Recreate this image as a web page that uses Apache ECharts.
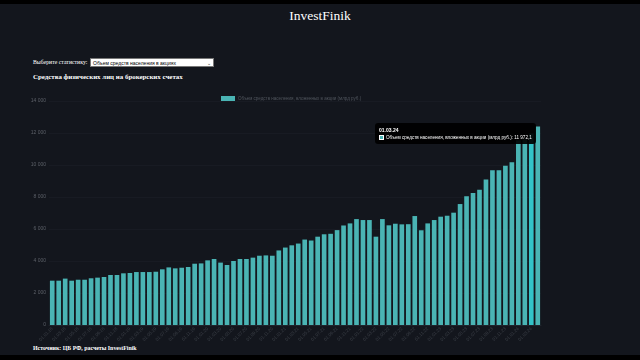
<!DOCTYPE html>
<html>
<head>
<meta charset="utf-8">
<script src="https://cdn.jsdelivr.net/npm/echarts@6/dist/echarts.min.js"></script>
<style>
  html,body{margin:0;padding:0;background:#13161d;width:640px;height:360px;overflow:hidden;}
  #page{position:relative;width:640px;height:360px;background:#13161d;}
  #topbar{position:absolute;left:0;top:0;width:640px;height:4px;background:#000;}
  #botbar{position:absolute;left:0;top:355px;width:640px;height:5px;background:#000;}
  .serif{font-family:"Liberation Serif","DejaVu Serif",serif;color:#fff;position:absolute;white-space:nowrap;}
  #title{left:0;width:640px;text-align:center;top:8px;font-size:13.5px;}
  #pick{left:33px;top:58px;font-size:5.8px;line-height:9px;}
  #sel{position:absolute;left:90px;top:58px;width:124px;height:9px;background:#fff;border:0.5px solid #777;box-sizing:border-box;font-family:"Liberation Sans",Arial,sans-serif;font-size:5px;line-height:8px;color:#000;padding-left:2px;}
  #sel span.arr{position:absolute;right:2px;top:0;font-size:5px;color:#333;}
  #sub{left:33px;top:73px;font-size:6.9px;font-weight:bold;}
  #src{left:33px;top:345px;font-size:5.9px;font-weight:bold;}
  #chart{position:absolute;left:0;top:0;width:640px;height:360px;}
</style>
</head>
<body>
<div id="page">
  <div id="topbar"></div>
  <div id="botbar"></div>
  <div id="title" class="serif">InvestFinik</div>
  <div id="pick" class="serif">Выберите статистику:</div>
  <div id="sel">Объем средств населения в акциях<span class="arr">&#8964;</span></div>
  <div id="sub" class="serif">Средства физических лиц на брокерских счетах</div>
  <div id="src" class="serif">Источник: ЦБ РФ, расчеты InvestFinik</div>
  <div id="chart"></div>
</div>
<script>
const seriesName = 'Объем средств населения, вложенных в акции (млрд руб.)';
const categories = [
 '01.01.18','01.02.18','01.03.18','01.04.18','01.05.18','01.06.18','01.07.18','01.08.18','01.09.18','01.10.18','01.11.18','01.12.18',
 '01.01.19','01.02.19','01.03.19','01.04.19','01.05.19','01.06.19','01.07.19','01.08.19','01.09.19','01.10.19','01.11.19','01.12.19',
 '01.01.20','01.02.20','01.03.20','01.04.20','01.05.20','01.06.20','01.07.20','01.08.20','01.09.20','01.10.20','01.11.20','01.12.20',
 '01.01.21','01.02.21','01.03.21','01.04.21','01.05.21','01.06.21','01.07.21','01.08.21','01.09.21','01.10.21','01.11.21','01.12.21',
 '01.01.22','01.02.22','01.03.22','01.04.22','01.05.22','01.06.22','01.07.22','01.08.22','01.09.22','01.10.22','01.11.22','01.12.22',
 '01.01.23','01.02.23','01.03.23','01.04.23','01.05.23','01.06.23','01.07.23','01.08.23','01.09.23','01.10.23','01.11.23','01.12.23',
 '01.01.24','01.02.24','01.03.24','01.04.24'
];
const values = [
 2770,2770,2900,2770,2830,2830,2920,2960,3000,3125,3125,3230,
 3250,3310,3310,3310,3330,3480,3600,3540,3580,3625,3830,3850,
 4040,4125,3900,3750,4000,4125,4125,4210,4330,4350,4330,4660,
 4840,4980,5090,5340,5280,5520,5670,5700,5930,6220,6350,6620,
 6560,6560,5520,6620,6230,6330,6290,6300,6810,5920,6350,6560,
 6770,6830,7020,7560,8040,8250,8460,9100,9670,9670,9960,10170,
 11550,11600,11972.1,12400
];
const yMax = 14000;
const yStep = 2000;
const hoverIndex = 74;

const barColor = '#4ab4b4';
const hoverColor = '#33c3c8';

function fmtNum(v){
  const parts = String(v).split('.');
  const i = parts[0].replace(/\B(?=(\d{3})+(?!\d))/g,' ');
  return parts.length>1 ? i + ',' + parts[1] : i;
}

const chart = echarts.init(document.getElementById('chart'), null, {renderer:'canvas'});
const data = values.map((v,i)=> i===hoverIndex ? {value:v, itemStyle:{color:hoverColor}} : v);
chart.setOption({
  animation:false,
  backgroundColor:'transparent',
  textStyle:{fontFamily:'"Liberation Sans", Arial, sans-serif'},
  legend:{
    show:true, left:216, top:91, itemWidth:14, itemHeight:5, itemGap:4,
    icon:'rect',
    textStyle:{fontSize:4.5, color:'#50555d', padding:[0,0,0,-2]},
    data:[seriesName]
  },
  grid:{left:49, right:99, top:101, bottom:35, containLabel:false},
  tooltip:{
    trigger:'item',
    alwaysShowContent:true,
    position:[375,123],
    backgroundColor:'rgba(0,0,0,0.92)',
    borderWidth:0,
    padding:[4,4,3,4],
    extraCssText:'box-shadow:none;border-radius:3px;',
    formatter:function(p){
      return '<div style="font:bold 5px Liberation Sans,Arial,sans-serif;color:#fff;line-height:7px;">'+p.name+'</div>'+
        '<div style="font:4.6px Liberation Sans,Arial,sans-serif;color:#fff;line-height:7px;white-space:nowrap;">'+
        '<span style="display:inline-block;width:5px;height:5px;background:'+barColor+';border:0.5px solid #fff;box-sizing:border-box;vertical-align:-1px;margin-right:2px;"></span>'+
        p.seriesName+': '+fmtNum(p.value)+'</div>';
    }
  },
  xAxis:{
    type:'category',
    data:categories,
    axisLine:{show:true, lineStyle:{color:'#20242c', width:1}},
    axisTick:{show:false},
    axisLabel:{interval:1, rotate:45, fontSize:4.5, color:'#3c4048', margin:3},
    splitLine:{show:false}
  },
  yAxis:{
    type:'value',
    min:0, max:yMax, interval:yStep,
    axisLine:{show:false},
    axisTick:{show:false},
    axisLabel:{fontSize:5, color:'#5c6068', margin:3, formatter:fmtNum, showMinLabel:true, showMaxLabel:true},
    splitLine:{show:true, lineStyle:{color:'#181b23', width:1}}
  },
  series:[{
    name:seriesName,
    type:'bar',
    data:data,
    barCategoryGap:'28%',
    itemStyle:{color:barColor},
    emphasis:{disabled:true}
  }]
});
chart.dispatchAction({type:'showTip', seriesIndex:0, dataIndex:hoverIndex});
</script>
</body>
</html>
